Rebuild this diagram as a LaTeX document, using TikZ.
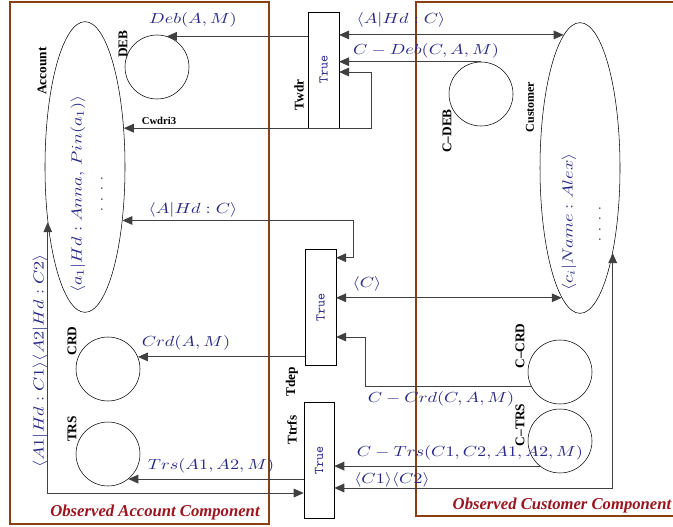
\documentclass[tikz,border=0pt]{standalone}
\usepackage{amsmath}
\usepackage{graphicx}
\usepackage{fontspec}
\setmainfont{Liberation Serif}
\usepackage{xcolor}
\usepackage{tikz}
\usetikzlibrary{arrows.meta, positioning, shapes.geometric}

\definecolor{frmbrown}{RGB}{140,62,20}
\definecolor{obsred}{RGB}{155,20,30}
\definecolor{tokblue}{RGB}{40,40,135}

\newcommand{\tok}[1]{\scalebox{1.25}[1]{\fontsize{11}{13}\selectfont$#1$}}

\tikzset{
  >={Triangle[length=7.5pt, width=6.5pt]},
  place/.style={draw, circle, minimum size=48pt, inner sep=0pt},
  bag/.style={draw, ellipse, minimum width=60pt, minimum height=218pt, inner sep=0pt},
  trans/.style={draw, rectangle, minimum width=23pt, minimum height=87pt, inner sep=0pt,
    font=\ttfamily, text=tokblue},
  plbl/.style={rotate=90, font=\bfseries, inner sep=0pt},
  tlbl/.style={text=tokblue, inner sep=1pt},
  arc/.style={draw=black!75, line width=0.7pt},
  frame/.style={draw=frmbrown, line width=1.4pt},
  obs/.style={text=obsred, font=\bfseries\itshape\fontsize{12.5}{14}\selectfont}
}

\begin{document}
\begin{tikzpicture}[x=0.75pt, y=-0.75pt]
  \useasboundingbox (0,0) rectangle (673,527);

  % components
  \draw[frame] (10,2) rectangle (269,524);
  \draw[frame] (416,2) rectangle (690,516);
  \node[obs] (obsAcc) at (155,512) {Observed Account Component};
  \node[obs] (obsCust) at (562,505) {Observed Customer Component};

  % account side
  \node[bag] (Account) at (85,167) {};
  \node[plbl] (AccountLbl) at (42,71) {Account};
  \node[tlbl, rotate=90] (accTok) at (78,194) {\tok{\langle a_1|Hd : Anna,\, Pin(a_1)\rangle}};
  \node[rotate=90, inner sep=0pt] (accDots) at (102,194) {$.\hskip5pt.\hskip5pt.\hskip5pt.$};

  \node[place] (DEB) at (157,67) {};
  \node[plbl] (DEBLbl) at (123,44) {DEB};
  \node[place] (CRD) at (108,369) {};
  \node[plbl] (CRDLbl) at (72,341) {CRD};
  \node[place] (TRS) at (108,454) {};
  \node[plbl] (TRSLbl) at (72,429) {TRS};

  % customer side
  \node[bag] (Customer) at (580,168) {};
  \node[plbl, font=\bfseries\small] (CustomerLbl) at (530,107) {Customer};
  \node[tlbl, rotate=90] (custTok) at (569,222) {\tok{\langle c_i|Name : Alex\rangle}};
  \node[rotate=90, inner sep=0pt] (custDots) at (600,224) {$.\hskip5pt.\hskip5pt.\hskip5pt.$};

  \node[place] (CDEB) at (481,94) {};
  \node[plbl] (CDEBLbl) at (447,131) {C--DEB};
  \node[place] (CCRD) at (560,372) {};
  \node[plbl] (CCRDLbl) at (520,346) {C--CRD};
  \node[place] (CTRS) at (560,441) {};
  \node[plbl] (CTRSLbl) at (520,425) {C--TRS};

  % transitions
  \node[trans] (Twdr) at (323.5,70) {\rotatebox{90}{True}};
  \node[plbl] (TwdrLbl) at (299,95) {Twdr};
  \node[trans] (Tdep) at (320.5,307) {\rotatebox{90}{True}};
  \node[plbl] (TdepLbl) at (292,382) {Tdep};
  \node[trans, minimum width=22.5pt] (Ttrfs) at (319,460.5) {\rotatebox{90}{True}};
  \node[plbl] (TtrfsLbl) at (292,430) {Ttrfs};

  % withdraw
  \draw[arc, ->] (Twdr.west |- DEB.72) -- (DEB.72);
  \node[tlbl] (debLbl) at (193,20) {\tok{Deb(A, M)}};
  \draw[arc, <->] (Account.45) -| ([xshift=24pt, yshift=-1.5pt]Twdr.east) -- ([yshift=-1.5pt]Twdr.east);
  \node[font=\bfseries\footnotesize, inner sep=0pt] (cwdLbl) at (159,121) {Cwdri3};
  \draw[arc, <->] (Twdr.east |- Customer.97) -- (Customer.97);
  \node[tlbl] (hdLbl) at (401,20) {\tok{\langle A|Hd : C\rangle}};
  \draw[arc, ->] (CDEB.north) -- (Twdr.east |- CDEB.north);
  \node[tlbl] (cdebLbl) at (426,51) {\tok{C - Deb(C, A, M)}};

  % deposit
  \draw[arc, <->] (Account.-55) -| ([xshift=12.75pt, yshift=-6.75pt]Tdep.north east) -- ([yshift=-6.75pt]Tdep.north east);
  \node[tlbl] (hdLblB) at (193,210) {\tok{\langle A|Hd : C\rangle}};
  \draw[arc, <->] (Tdep.east |- Customer.262) -- (Customer.262);
  \node[tlbl] (cLbl) at (367,284) {\tok{\langle C\rangle}};
  \draw[arc, ->] (CCRD.206) -| ([xshift=21.75pt, yshift=-22.5pt]Tdep.east) -- ([yshift=-22.5pt]Tdep.east);
  \node[tlbl] (ccrdLbl) at (441,399) {\tok{C - Crd(C, A, M)}};
  \draw[arc, ->] (Tdep.west |- CRD.22) -- (CRD.22);
  \node[tlbl] (crdLbl) at (186,343) {\tok{Crd(A, M)}};

  % transfer
  \draw[arc, ->] (Ttrfs.west |- TRS.-51) -- (TRS.-51);
  \node[tlbl] (trsLbl) at (211,466) {\tok{Trs(A1, A2, M)}};
  \draw[arc, <->] (Account.236) |- ([yshift=-24.4pt]Ttrfs.west);
  \node[tlbl, rotate=90] (accPairLbl) at (40,361) {\tok{\langle A1|Hd : C1\rangle\langle A2|Hd : C2\rangle}};
  \draw[arc, ->] (CTRS.231) -- (Ttrfs.east |- CTRS.231);
  \node[tlbl] (ctrsLbl) at (470,453) {\tok{C - Trs(C1, C2, A1, A2, M)}};
  \draw[arc, <->] ([yshift=-20.6pt]Ttrfs.east) -| (Customer.291);
  \node[tlbl] (custPairLbl) at (392,480) {\tok{\langle C1\rangle\langle C2\rangle}};
\end{tikzpicture}
\end{document}
